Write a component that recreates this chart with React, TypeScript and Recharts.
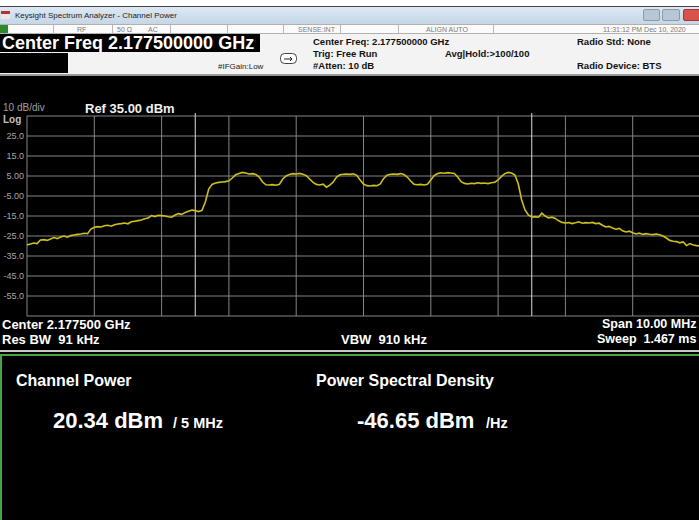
import React from 'react';
import { LineChart, Line, XAxis, YAxis, CartesianGrid, ReferenceLine } from 'recharts';

// sweep settings: 10 MHz span around 2.1775 GHz, trace read every 50 kHz
const SPAN_START_MHZ = -5;
const STEP_MHZ = 0.05;

// trace level in dBm, left to right
const traceDbm = [
  -29.5, -29.0, -28.5, -28.8, -27.0, -26.8, -27.2, -26.5, -25.8, -26.3,
  -25.5, -25.0, -25.6, -24.8, -24.5, -24.2, -24.0, -23.6, -23.8, -21.5,
  -20.6, -20.3, -20.5, -19.9, -19.6, -20.1, -19.4, -19.0, -18.8, -18.5,
  -18.9, -17.9, -17.6, -17.3, -17.0, -16.4, -16.0, -14.8, -15.3, -14.6,
  -14.8, -15.0, -15.4, -15.6, -14.5, -13.8, -14.2, -13.2, -12.6, -12.0,
  -12.3, -12.8, -12.2, -8.0, -1.5, 0.8, 1.5, 1.8, 2.0, 2.2,
  2.6, 4.0, 5.6, 6.2, 6.8, 6.5, 6.0, 6.2, 5.8, 4.5,
  2.0, 0.6, 0.5, 0.7, 0.4, 0.8, 3.5, 5.0, 5.8, 6.2,
  6.0, 6.3, 5.9, 5.2, 3.5, 1.8, 0.8, 0.5, 0.9, -0.6,
  0.4, 2.0, 4.5, 5.6, 5.9, 6.0, 5.8, 6.1, 5.3, 3.0,
  1.0, 0.2, 0.0, 0.3, 0.1, 1.0, 3.8, 5.4, 5.9, 6.0,
  5.8, 6.2, 5.7, 4.5, 2.5, 0.9, 0.6, 0.8, 0.5, 0.9,
  3.0, 5.2, 6.2, 6.6, 6.4, 6.7, 6.5, 6.3, 4.5, 2.2,
  1.3, 1.0, 1.4, 1.2, 1.6, 1.3, 1.5, 1.2, 1.6, 1.9,
  3.0, 4.8, 6.2, 6.8, 6.5, 5.5, 1.0, -7.0, -12.0, -14.5,
  -15.5, -15.3, -15.6, -13.6, -15.0, -16.0, -15.6, -16.2, -17.4, -18.2,
  -18.5, -18.3, -18.8, -18.4, -17.9, -18.6, -18.3, -18.5, -18.2, -18.8,
  -18.6, -19.6, -20.5, -20.2, -21.0, -21.6, -21.2, -22.4, -23.0, -22.6,
  -23.4, -24.0, -23.6, -24.2, -23.8, -24.1, -24.3, -24.0, -24.4, -25.0,
  -26.0, -27.2, -27.6, -27.8, -28.4, -28.0, -29.8, -28.8, -29.5, -29.8,
  -30.0,
];

const freqTicks = [-5, -4, -3, -2, -1, 0, 1, 2, 3, 4, 5];
const levelTicks = [35, 25, 15, 5, -5, -15, -25, -35, -45, -55, -65];
const levelTickLabels = ['', '25.0', '15.0', '5.00', '-5.00', '-15.0', '-25.0', '-35.0', '-45.0', '-55.0', ''];
const channelEdges = [-2.5, 2.5];

const statusDividers = [53, 112, 170, 227, 283, 340, 398, 493];
const statusTexts: [number, string][] = [
  [77, 'RF'],
  [117, '50 Ω'],
  [148, 'AC'],
  [298, 'SENSE:INT'],
  [426, 'ALIGN AUTO'],
  [603, '11:31:12 PM Dec 10, 2020'],
];

const FONT = '"Liberation Sans", Arial, sans-serif';
const TRACE = '#cdbf1c';

const data = traceDbm.map((v, i) => ({ f: SPAN_START_MHZ + i * STEP_MHZ, dbm: v }));

const Txt: React.FC<{ x: number; y: number; size: number; bold?: boolean; color?: string; children: React.ReactNode }> = ({
  x, y, size, bold, color = '#fff', children,
}) => (
  <div
    style={{
      position: 'absolute', left: x, top: y - size / 2, fontSize: size, lineHeight: 1,
      fontWeight: bold ? 'bold' : 'normal', color, whiteSpace: 'pre',
    }}
  >
    {children}
  </div>
);

const LevelTick = (props: any) => {
  const { y, payload } = props;
  const idx = levelTicks.indexOf(payload.value);
  return (
    <text x={24} y={y} dy={3} textAnchor="end" fontSize={9} fill="#a8a8a8" fontFamily={FONT}>
      {levelTickLabels[idx]}
    </text>
  );
};

export default function App() {
  return (
    <div
      style={{
        position: 'fixed', left: 0, top: 0, width: 699, height: 520,
        overflow: 'hidden', background: '#000', fontFamily: FONT,
      }}
    >
      {/* window title bar */}
      <div style={{ position: 'absolute', left: 0, top: 0, width: 699, height: 6, background: '#fff' }} />
      <div style={{ position: 'absolute', left: 0, top: 6, width: 699, height: 1, background: '#444' }} />
      <div
        style={{
          position: 'absolute', left: 0, top: 7, width: 699, height: 17,
          background: 'linear-gradient(#dde8f3, #c6d6e6)',
        }}
      />
      <div style={{ position: 'absolute', left: 1, top: 11, width: 9, height: 8, background: '#e8e8e8' }}>
        <div style={{ height: 3, background: '#c0302a' }} />
      </div>
      <Txt x={15} y={16} size={8} color="#222">Keysight Spectrum Analyzer - Channel Power</Txt>
      <div style={{ position: 'absolute', left: 643, top: 9, width: 15, height: 10, background: '#b8c6d6', border: '1px solid #8a9aac', borderRadius: 2 }} />
      <div style={{ position: 'absolute', left: 662, top: 9, width: 16, height: 10, background: '#b8c6d6', border: '1px solid #8a9aac', borderRadius: 2 }} />
      <div style={{ position: 'absolute', left: 683, top: 9, width: 20, height: 10, background: '#d9534a', border: '1px solid #9a3a32', borderRadius: 2 }} />

      {/* status bar */}
      <div style={{ position: 'absolute', left: 0, top: 24, width: 699, height: 10, background: '#fbfbfb', borderTop: '1px solid #b0b0b0', borderBottom: '1px solid #b0b0b0', boxSizing: 'border-box' }} />
      <div style={{ position: 'absolute', left: 0, top: 25, width: 8, height: 8, background: '#2f8a2f' }} />
      {statusDividers.map((x) => (
        <div key={x} style={{ position: 'absolute', left: x, top: 25, width: 1, height: 8, background: '#b8b8b8' }} />
      ))}
      {statusTexts.map(([x, t]) => (
        <Txt key={t} x={x} y={29} size={7} color="#7a7a7a">{t}</Txt>
      ))}

      {/* setup info */}
      <div style={{ position: 'absolute', left: 0, top: 34, width: 699, height: 40, background: '#f3f3f3' }} />
      <div style={{ position: 'absolute', left: 0, top: 74, width: 699, height: 2, background: '#9a9a9a' }} />
      <div style={{ position: 'absolute', left: 0, top: 34, width: 260, height: 18, background: '#000' }} />
      <div style={{ position: 'absolute', left: 0, top: 53, width: 68, height: 20, background: '#000' }} />
      <Txt x={2} y={43} size={18} bold>Center Freq 2.177500000 GHz</Txt>
      <Txt x={218} y={67} size={8} color="#222">#IFGain:Low</Txt>
      <svg style={{ position: 'absolute', left: 280, top: 53 }} width={17} height={11}>
        <rect x={0.5} y={0.5} width={16} height={10} rx={4} fill="#fff" stroke="#444" />
        <path d="M4 6 H12 M10 4 L12 6 L10 8" stroke="#222" fill="none" />
      </svg>
      <Txt x={313} y={42} size={9.5} bold color="#111">Center Freq: 2.177500000 GHz</Txt>
      <Txt x={313} y={54} size={9.5} bold color="#111">Trig: Free Run</Txt>
      <Txt x={445} y={54} size={9.5} bold color="#111">Avg|Hold:&gt;100/100</Txt>
      <Txt x={313} y={66} size={9.5} bold color="#111">#Atten: 10 dB</Txt>
      <Txt x={577} y={42} size={9.5} bold color="#111">Radio Std: None</Txt>
      <Txt x={577} y={66} size={9.5} bold color="#111">Radio Device: BTS</Txt>

      {/* trace header */}
      <Txt x={3} y={108} size={10} color="#a0a0a0">10 dB/div</Txt>
      <Txt x={3} y={120} size={10} bold color="#c0c0c0">Log</Txt>
      <Txt x={85} y={108} size={13} bold color="#f0f0f0">Ref 35.00 dBm</Txt>

      <div style={{ position: 'absolute', left: 0, top: 106 }}>
        <LineChart width={700} height={214} data={data} margin={{ top: 10, right: 0, bottom: 4, left: 0 }}>
          <CartesianGrid stroke="#858585" strokeWidth={1} />
          <XAxis type="number" dataKey="f" domain={[-5, 5]} ticks={freqTicks} hide />
          <YAxis
            type="number"
            domain={[-65, 35]}
            ticks={levelTicks}
            interval={0}
            width={27}
            axisLine={false}
            tickLine={false}
            tick={LevelTick}
          />
          {channelEdges.map((x) => (
            <ReferenceLine
              key={x}
              segment={[{ x, y: 36.5 }, { x, y: -65 }]}
              stroke="#dedede"
              strokeWidth={1}
              ifOverflow="visible"
            />
          ))}
          <Line
            type="linear"
            dataKey="dbm"
            stroke={TRACE}
            strokeWidth={1.6}
            dot={false}
            isAnimationActive={false}
          />
        </LineChart>
      </div>

      {/* sweep info */}
      <Txt x={2} y={324} size={13} bold>Center 2.177500 GHz</Txt>
      <Txt x={2} y={339} size={13} bold>Res BW  91 kHz</Txt>
      <Txt x={341} y={339} size={13} bold>VBW  910 kHz</Txt>
      <Txt x={602} y={324} size={12.5} bold>Span 10.00 MHz</Txt>
      <Txt x={597} y={339} size={12.5} bold>Sweep  1.467 ms</Txt>

      <div style={{ position: 'absolute', left: 0, top: 350, width: 699, height: 2, background: '#c8c8c8' }} />
      <div
        style={{
          position: 'absolute', left: 0, top: 354, width: 720, height: 200,
          borderTop: '2px solid #46a546', borderLeft: '2px solid #46a546', boxSizing: 'border-box',
        }}
      />

      {/* results */}
      <Txt x={16} y={381} size={16} bold>Channel Power</Txt>
      <Txt x={316} y={381} size={16} bold>Power Spectral Density</Txt>
      <Txt x={53} y={421} size={22} bold>20.34 dBm</Txt>
      <Txt x={173} y={423} size={14.5} bold>/ 5 MHz</Txt>
      <Txt x={357} y={421} size={22} bold>-46.65 dBm</Txt>
      <Txt x={486} y={423} size={14.5} bold>/Hz</Txt>
    </div>
  );
}
